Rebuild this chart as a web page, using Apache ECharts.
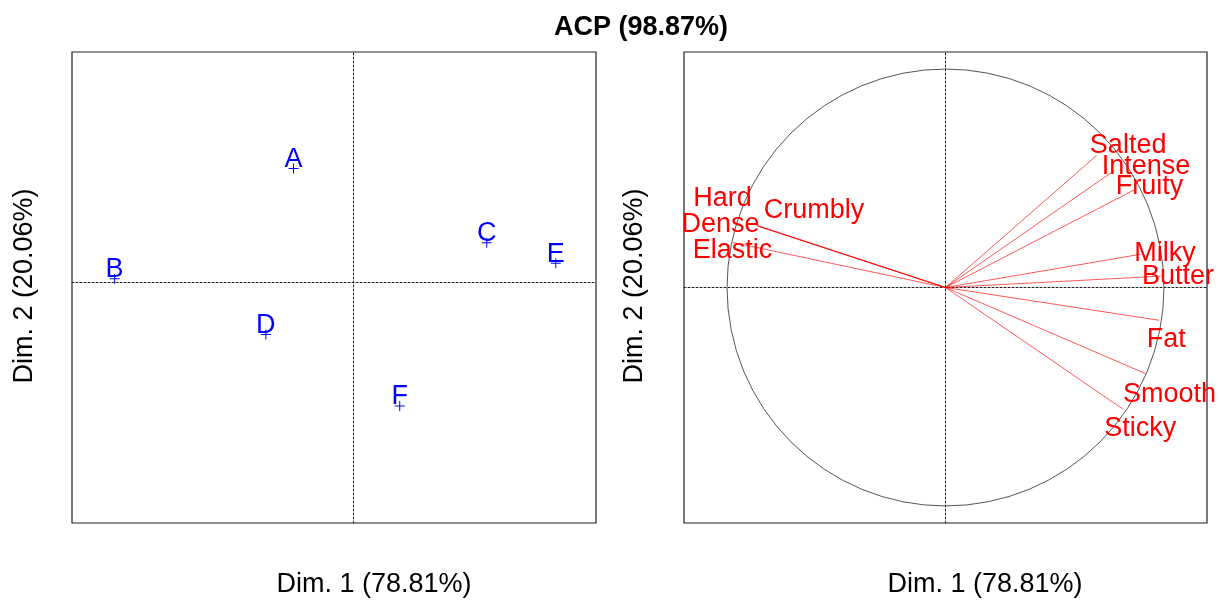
<!DOCTYPE html>
<html>
<head>
<meta charset="utf-8"/>
<title>ACP</title>
<script src="https://cdn.jsdelivr.net/npm/echarts@6/dist/echarts.min.js"></script>
<style>
html,body{margin:0;padding:0;background:#fff;}
#main{width:1222px;height:601px;}
</style>
</head>
<body>
<div id="main"></div>
<script type="text/javascript">
// individus (coordonnees sur Dim.1 / Dim.2)
var indNames = ['A', 'B', 'C', 'D', 'E', 'F'];
var indDim1 = [-1.00, -3.98, 2.22, -1.46, 3.37, 0.77];
var indDim2 = [1.90, 0.06, 0.66, -0.87, 0.32, -2.06];

// variables (cercle des correlations)
var varNames = ['Salted', 'Intense', 'Fruity', 'Milky', 'Butter', 'Fat', 'Smooth', 'Sticky', 'Hard', 'Dense', 'Crumbly', 'Elastic'];
var varDim1 = [0.692, 0.772, 0.870, 0.893, 0.985, 0.978, 0.915, 0.811, -0.870, -0.862, -0.852, -0.973];
var varDim2 = [0.605, 0.535, 0.450, 0.152, 0.052, -0.150, -0.394, -0.556, 0.287, 0.282, 0.279, 0.206];
// positions des etiquettes apres autoLab
var varLabX = [0.836, 0.918, 0.934, 1.005, 1.064, 1.011, 1.025, 0.892, -1.021, -1.030, -0.602, -0.975];
var varLabY = [0.648, 0.552, 0.462, 0.157, 0.050, -0.239, -0.490, -0.647, 0.405, 0.290, 0.354, 0.169];

var FONT = '"Liberation Sans", Arial, sans-serif';

var indData = [];
for (var i = 0; i < indNames.length; i++) {
    indData.push({name: indNames[i], value: [indDim1[i], indDim2[i]]});
}
var varData = [];
var labData = [];
for (var j = 0; j < varNames.length; j++) {
    varData.push([varDim1[j], varDim2[j]]);
    labData.push([varLabX[j], varLabY[j]]);
}

function hiddenAxis(idx, min, max) {
    return {
        type: 'value', gridIndex: idx, min: min, max: max,
        axisLine: {show: true, onZero: true, lineStyle: {color: '#222', width: 1, type: [2, 2]}},
        axisTick: {show: false}, axisLabel: {show: false}, splitLine: {show: false}
    };
}

var myChart = echarts.init(document.getElementById('main'), null, {renderer: 'canvas'});
var option = {
    animation: false,
    backgroundColor: '#fff',
    grid: [
        {left: 72, top: 52, width: 524, height: 471, show: true, borderColor: '#222', borderWidth: 1.2, backgroundColor: 'transparent'},
        {left: 684, top: 52, width: 523, height: 471, show: true, borderColor: '#222', borderWidth: 1.2, backgroundColor: 'transparent'}
    ],
    xAxis: [hiddenAxis(0, -4.69, 4.04), hiddenAxis(1, -1.197, 1.197)],
    yAxis: [hiddenAxis(0, -4.01, 3.84), hiddenAxis(1, -1.078, 1.078)],
    graphic: [
        {type: 'text', x: 641, y: 28, style: {text: 'ACP (98.87%)', font: 'bold 27px ' + FONT, fill: '#000', align: 'center', verticalAlign: 'middle'}},
        {type: 'text', x: 374, y: 585, style: {text: 'Dim. 1 (78.81%)', font: '27px ' + FONT, fill: '#000', align: 'center', verticalAlign: 'middle'}},
        {type: 'text', x: 985, y: 585, style: {text: 'Dim. 1 (78.81%)', font: '27px ' + FONT, fill: '#000', align: 'center', verticalAlign: 'middle'}},
        {type: 'text', x: 25, y: 286, rotation: Math.PI / 2, style: {text: 'Dim. 2 (20.06%)', font: '27px ' + FONT, fill: '#000', align: 'center', verticalAlign: 'middle'}},
        {type: 'text', x: 635, y: 286, rotation: Math.PI / 2, style: {text: 'Dim. 2 (20.06%)', font: '27px ' + FONT, fill: '#000', align: 'center', verticalAlign: 'middle'}}
    ],
    series: [
        {
            type: 'scatter', xAxisIndex: 0, yAxisIndex: 0,
            symbol: 'path://M0,4.5h10v1h-10z M4.5,0h1v10h-1z',
            symbolSize: 10,
            itemStyle: {color: '#0000ff', opacity: 1},
            label: {
                show: true, position: 'inside', offset: [0, -9],
                formatter: '{b}', color: '#0000ff', fontSize: 27, fontFamily: FONT,
                textBorderWidth: 0, textBorderColor: 'transparent', opacity: 1
            },
            data: indData
        },
        {
            // cercle unite
            type: 'custom', xAxisIndex: 1, yAxisIndex: 1, silent: true,
            renderItem: function (params, api) {
                var c = api.coord([0, 0]);
                var r = api.size([1, 0])[0];
                return {type: 'circle', shape: {cx: c[0], cy: c[1], r: r}, style: {fill: 'none', stroke: '#555', lineWidth: 1}};
            },
            data: [[0, 0]]
        },
        {
            type: 'custom', xAxisIndex: 1, yAxisIndex: 1, silent: true,
            renderItem: function (params, api) {
                var p0 = api.coord([0, 0]);
                var p1 = api.coord([api.value(0), api.value(1)]);
                return {type: 'line', shape: {x1: p0[0], y1: p0[1], x2: p1[0], y2: p1[1]}, style: {stroke: 'rgba(255,0,0,0.65)', lineWidth: 1}};
            },
            data: varData
        },
        {
            type: 'custom', xAxisIndex: 1, yAxisIndex: 1, silent: true,
            renderItem: function (params, api) {
                var p = api.coord([api.value(0), api.value(1)]);
                return {type: 'text', x: p[0], y: p[1], style: {text: varNames[params.dataIndex], font: '27px ' + FONT, fill: '#ff0000', align: 'center', verticalAlign: 'middle'}};
            },
            data: labData
        }
    ]
};
myChart.setOption(option);
</script>
</body>
</html>
